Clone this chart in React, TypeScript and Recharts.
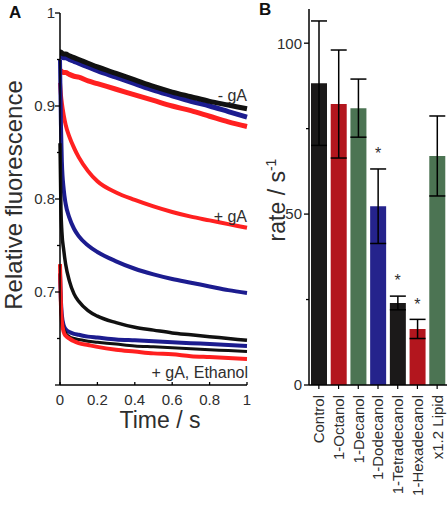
import React from 'react';
import {
  LineChart,
  Line,
  XAxis,
  YAxis,
  Label,
  ComposedChart,
  Bar,
  Cell,
  ErrorBar,
  Scatter,
} from 'recharts';

// ---------- Panel A data ----------
const times = [0, 0.005, 0.01, 0.02, 0.03, 0.05, 0.075, 0.1, 0.15, 0.2, 0.3, 0.4, 0.5, 0.6, 0.7, 0.8, 0.9, 1.0];
const noGaBlack = [0.958, 0.958, 0.957, 0.956, 0.956, 0.954, 0.952, 0.95, 0.946, 0.942, 0.935, 0.928, 0.921, 0.915, 0.91, 0.905, 0.901, 0.897];
const noGaBlue = [0.954, 0.954, 0.953, 0.952, 0.952, 0.95, 0.948, 0.946, 0.942, 0.938, 0.931, 0.924, 0.917, 0.911, 0.905, 0.9, 0.894, 0.888];
const noGaRed = [0.938, 0.938, 0.937, 0.936, 0.936, 0.934, 0.932, 0.931, 0.927, 0.924, 0.918, 0.912, 0.906, 0.9, 0.895, 0.889, 0.883, 0.878];
const gaRed = [0.925, 0.912, 0.903, 0.89, 0.88, 0.867, 0.855, 0.845, 0.83, 0.819, 0.807, 0.799, 0.792, 0.786, 0.781, 0.777, 0.773, 0.769];
const gaBlue = [0.95, 0.88, 0.84, 0.81, 0.795, 0.78, 0.768, 0.76, 0.75, 0.743, 0.733, 0.725, 0.719, 0.714, 0.71, 0.706, 0.702, 0.699];
const gaBlack = [0.86, 0.79, 0.765, 0.745, 0.73, 0.712, 0.698, 0.69, 0.68, 0.674, 0.667, 0.662, 0.659, 0.656, 0.654, 0.652, 0.65, 0.648];
const ethBlue = [0.72, 0.69, 0.675, 0.664, 0.66, 0.657, 0.655, 0.654, 0.652, 0.651, 0.649, 0.648, 0.647, 0.646, 0.645, 0.644, 0.643, 0.642];
const ethBlack = [0.72, 0.688, 0.672, 0.661, 0.656, 0.652, 0.65, 0.649, 0.647, 0.646, 0.644, 0.642, 0.641, 0.64, 0.639, 0.638, 0.637, 0.636];
const ethRed = [0.73, 0.686, 0.668, 0.657, 0.653, 0.65, 0.647, 0.645, 0.643, 0.641, 0.638, 0.636, 0.634, 0.633, 0.631, 0.63, 0.629, 0.628];

const xTicksA = [0, 0.2, 0.4, 0.6, 0.8, 1];
const xTickLabelsA = ['0', '0.2', '0.4', '0.6', '0.8', '1'];
const yTicksA = [0.6, 0.65, 0.7, 0.75, 0.8, 0.85, 0.9, 0.95, 1];
const yTickLabelsA = ['', '', '0.7', '', '0.8', '', '0.9', '', '1'];

// ---------- Panel B data ----------
const categories = ['Control', '1-Octanol', '1-Decanol', '1-Dodecanol', '1-Tetradecanol', '1-Hexadecanol', 'x1.2 Lipid'];
const rates = [88.3, 82.2, 81.0, 52.3, 24.0, 16.4, 67.0];
const rateErrors = [18.2, 15.8, 8.5, 10.9, 2.0, 2.8, 11.7];
const significant = [false, false, false, true, true, true, false];
const barColors = ['#1b1919', '#b3161e', '#4c7453', '#25238c', '#1b1919', '#b3161e', '#4c7453'];
const yTicksB = [0, 25, 50, 75, 100];
const yTickLabelsB = ['0', '', '50', '', '100'];

const FONT = '"Liberation Sans", Arial, Helvetica, sans-serif';
const TXT = '#2e2e2e';

const lineRows = times.map((t, i) => ({
  t,
  noGaBlack: noGaBlack[i],
  noGaBlue: noGaBlue[i],
  noGaRed: noGaRed[i],
  gaRed: gaRed[i],
  gaBlue: gaBlue[i],
  gaBlack: gaBlack[i],
  ethBlue: ethBlue[i],
  ethBlack: ethBlack[i],
  ethRed: ethRed[i],
}));

const barRows = categories.map((c, i) => ({
  name: c,
  rate: rates[i],
  err: rateErrors[i],
  star: significant[i] ? rates[i] + rateErrors[i] + 5.5 : null,
}));

const XTickA = (props: any) => {
  const { x, y, payload } = props;
  const idx = xTicksA.indexOf(payload.value);
  return (
    <g>
      <line x1={x} x2={x} y1={y} y2={y - 3} stroke="#000" strokeWidth={1.3} />
      <text x={x} y={y + 20} textAnchor="middle" fontSize={15} fill={TXT} fontFamily={FONT}>
        {idx >= 0 ? xTickLabelsA[idx] : ''}
      </text>
    </g>
  );
};

const YTickA = (props: any) => {
  const { x, y, payload } = props;
  const idx = yTicksA.findIndex((v) => Math.abs(v - payload.value) < 1e-9);
  const label = idx >= 0 ? yTickLabelsA[idx] : '';
  const major = label !== '' || idx === 0;
  return (
    <g>
      <line x1={x - (major ? 5 : 3)} x2={x} y1={y} y2={y} stroke="#000" strokeWidth={1.3} />
      {label && (
        <text x={x - 5} y={y} dy="0.36em" textAnchor="end" fontSize={15} fill={TXT} fontFamily={FONT}>
          {label}
        </text>
      )}
    </g>
  );
};

const YTickB = (props: any) => {
  const { x, y, payload } = props;
  const idx = yTicksB.indexOf(payload.value);
  const label = idx >= 0 ? yTickLabelsB[idx] : '';
  const major = label !== '';
  return (
    <g>
      <line x1={x - (major ? 5 : 3)} x2={x} y1={y} y2={y} stroke="#000" strokeWidth={1.3} />
      {label && (
        <text x={x - 7} y={y} dy="0.36em" textAnchor="end" fontSize={15} fill={TXT} fontFamily={FONT}>
          {label}
        </text>
      )}
    </g>
  );
};

const XTickB = (props: any) => {
  const { x, y, payload } = props;
  return (
    <g>
      <line x1={x} x2={x} y1={y} y2={y + 4} stroke="#000" strokeWidth={1.2} />
      <text
        x={x}
        y={y + 10}
        transform={`rotate(-90, ${x}, ${y + 10})`}
        textAnchor="end"
        dy="0.36em"
        fontSize={15}
        fill={TXT}
        fontFamily={FONT}
      >
        {payload.value}
      </text>
    </g>
  );
};

const StarShape = (props: any) => {
  const { cx, cy } = props;
  if (cx == null || cy == null || Number.isNaN(cx) || Number.isNaN(cy)) return <g />;
  return (
    <text x={cx} y={cy + 9} textAnchor="middle" fontSize={16} fill={TXT} fontFamily={FONT}>
      *
    </text>
  );
};

const lineProps = { type: 'monotone' as const, dot: false, isAnimationActive: false };

export default function App() {
  return (
    <div
      style={{
        position: 'absolute',
        left: 0,
        top: 0,
        width: 447,
        height: 506,
        overflow: 'hidden',
        background: '#fff',
        fontFamily: FONT,
      }}
    >
      <div style={{ position: 'absolute', left: 0, top: 0 }}>
        <LineChart width={255} height={506} data={lineRows} margin={{ top: 13, right: 8, left: 0, bottom: 0 }}>
          <XAxis
            dataKey="t"
            type="number"
            domain={[0, 1]}
            ticks={xTicksA}
            interval={0}
            tick={<XTickA />}
            tickLine={false}
            tickSize={0}
            tickMargin={0}
            height={121}
            axisLine={{ stroke: '#000', strokeWidth: 1.5 }}
          >
            <Label
              content={() => (
                <text x={160} y={428} textAnchor="middle" fontSize={23} fill={TXT} fontFamily={FONT}>
                  Time / s
                </text>
              )}
            />
          </XAxis>
          <YAxis
            type="number"
            domain={[0.6, 1]}
            ticks={yTicksA}
            interval={0}
            tick={<YTickA />}
            tickLine={false}
            tickSize={0}
            tickMargin={0}
            width={60}
            axisLine={{ stroke: '#000', strokeWidth: 1.5 }}
            allowDataOverflow
          >
            <Label
              content={() => (
                <g>
                  <text
                    x={22}
                    y={195}
                    transform="rotate(-90, 22, 195)"
                    textAnchor="middle"
                    fontSize={24}
                    fill={TXT}
                    fontFamily={FONT}
                  >
                    Relative fluorescence
                  </text>
                  <text x={247} y={101} textAnchor="end" fontSize={16} fill={TXT} fontFamily={FONT}>
                    - gA
                  </text>
                  <text x={247} y={222} textAnchor="end" fontSize={16} fill={TXT} fontFamily={FONT}>
                    + gA
                  </text>
                  <text x={248} y={378} textAnchor="end" fontSize={16} fill={TXT} fontFamily={FONT}>
                    + gA, Ethanol
                  </text>
                </g>
              )}
            />
          </YAxis>
          <Line dataKey="noGaRed" stroke="#ff2020" strokeWidth={5} {...lineProps} />
          <Line dataKey="noGaBlue" stroke="#1c1c8f" strokeWidth={5} {...lineProps} />
          <Line dataKey="noGaBlack" stroke="#111111" strokeWidth={5} {...lineProps} />
          <Line dataKey="gaRed" stroke="#ff2020" strokeWidth={4} {...lineProps} />
          <Line dataKey="gaBlue" stroke="#1c1c8f" strokeWidth={4} {...lineProps} />
          <Line dataKey="gaBlack" stroke="#111111" strokeWidth={3.5} {...lineProps} />
          <Line dataKey="ethBlue" stroke="#1c1c8f" strokeWidth={4} {...lineProps} />
          <Line dataKey="ethBlack" stroke="#111111" strokeWidth={3} {...lineProps} />
          <Line dataKey="ethRed" stroke="#ff2020" strokeWidth={4} {...lineProps} />
        </LineChart>
      </div>

      <div style={{ position: 'absolute', left: 230, top: 0 }}>
        <ComposedChart width={217} height={506} data={barRows} margin={{ top: 9, right: 0, left: 0, bottom: 0 }}>
          <XAxis
            dataKey="name"
            type="category"
            interval={0}
            tick={<XTickB />}
            tickLine={false}
            tickSize={0}
            tickMargin={0}
            height={121}
            axisLine={{ stroke: '#000', strokeWidth: 1.5 }}
          />
          <YAxis
            type="number"
            domain={[0, 110]}
            ticks={yTicksB}
            interval={0}
            tick={<YTickB />}
            tickLine={false}
            tickSize={0}
            tickMargin={0}
            width={79}
            axisLine={{ stroke: '#000', strokeWidth: 1.5 }}
            allowDataOverflow
          >
            <Label
              content={() => (
                <text
                  x={55}
                  y={200}
                  transform="rotate(-90, 55, 200)"
                  textAnchor="middle"
                  fontSize={23}
                  fill={TXT}
                  fontFamily={FONT}
                >
                  rate / s
                  <tspan fontSize={14} dy={-9}>
                    -1
                  </tspan>
                </text>
              )}
            />
          </YAxis>
          <Bar dataKey="rate" barSize={16} isAnimationActive={false}>
            {barRows.map((r, i) => (
              <Cell key={r.name} fill={barColors[i]} />
            ))}
            <ErrorBar dataKey="err" width={8} stroke="#000" strokeWidth={1.5} direction="y" />
          </Bar>
          <Scatter dataKey="star" shape={<StarShape />} isAnimationActive={false} />
        </ComposedChart>
      </div>

      <div style={{ position: 'absolute', left: 9, top: 4, fontWeight: 'bold', fontSize: 17, lineHeight: '17px', color: '#111' }}>
        A
      </div>
      <div style={{ position: 'absolute', left: 259, top: 1, fontWeight: 'bold', fontSize: 17, lineHeight: '17px', color: '#111' }}>
        B
      </div>
    </div>
  );
}
